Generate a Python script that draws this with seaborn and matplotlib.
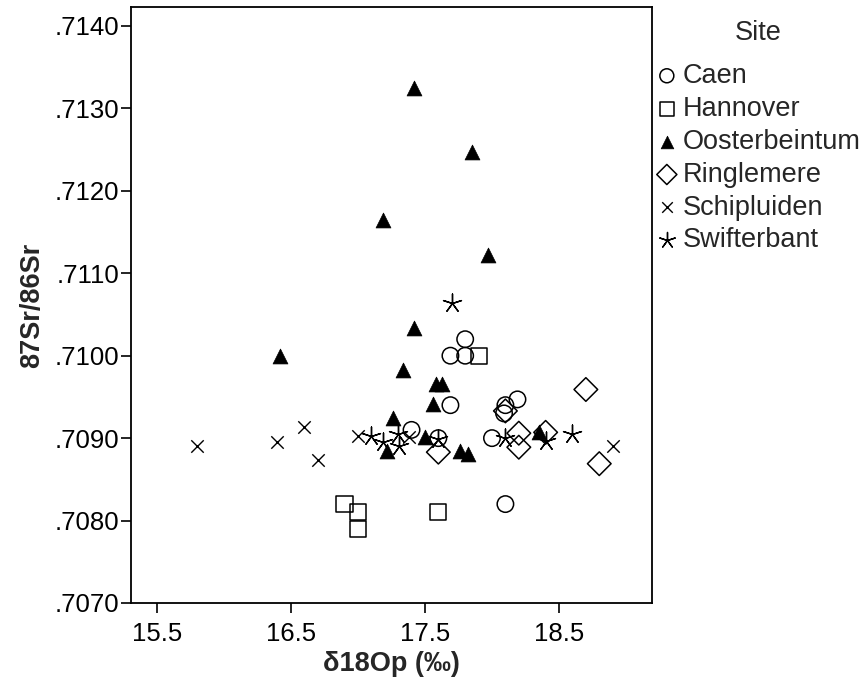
import matplotlib
matplotlib.use("Agg")
import matplotlib.pyplot as plt
import seaborn as sns
import pandas as pd

# ---- data ----
sites = ["Caen", "Hannover", "Oosterbeintum", "Ringlemere", "Schipluiden", "Swifterbant"]

caen_x = [17.80, 17.69, 17.80, 17.69, 17.40, 17.60, 18.00, 18.10, 18.09, 18.19, 18.10]
caen_y = [.7102, .7100, .7100, .7094, .7091, .7090, .7090, .7094, .7093, .70947, .7082]

hannover_x = [16.90, 17.00, 17.00, 17.60, 17.90]
hannover_y = [.7082, .7081, .7079, .7081, .7100]

oost_x = [16.42, 17.42, 17.85, 17.19, 17.97, 17.42, 17.34, 17.58, 17.63, 17.56,
          17.26, 17.50, 17.22, 17.76, 17.82, 18.35]
oost_y = [.7100, .71325, .71247, .71165, .71122, .71034, .70983, .70966, .70966, .70941,
          .70924, .70901, .70884, .70884, .70881, .70907]

ring_x = [17.60, 18.10, 18.20, 18.20, 18.40, 18.70, 18.80]
ring_y = [.70883, .70933, .70906, .70889, .70907, .70959, .70869]

schip_x = [15.80, 16.40, 16.60, 16.70, 17.00, 17.38, 18.90]
schip_y = [.70891, .70895, .70913, .70874, .70903, .70901, .70891]

swift_x = [17.70, 17.10, 17.19, 17.30, 17.31, 17.60, 18.10, 18.40, 18.60]
swift_y = [.71064, .70903, .70895, .70905, .70891, .70899, .70900, .70897, .70905]

xticks = [15.5, 16.5, 17.5, 18.5]
xtick_labels = ["15.5", "16.5", "17.5", "18.5"]
yticks = [.7070, .7080, .7090, .7100, .7110, .7120, .7130, .7140]
ytick_labels = [".7070", ".7080", ".7090", ".7100", ".7110", ".7120", ".7130", ".7140"]

xs = [caen_x, hannover_x, oost_x, ring_x, schip_x, swift_x]
ys = [caen_y, hannover_y, oost_y, ring_y, schip_y, swift_y]
df = pd.concat([pd.DataFrame({"d18O": x, "Sr": y, "Site": s}) for s, x, y in zip(sites, xs, ys)],
               ignore_index=True)

# ---- style ----
sns.set_style("ticks")
plt.rcParams["font.family"] = ["Liberation Sans", "DejaVu Sans"]

fig = plt.figure(figsize=(8.64, 6.97), dpi=100)
ax = fig.add_axes([131 / 864, 1 - 603 / 697, (651.7 - 131) / 864, (603 - 7) / 697])

styles = {
    "Caen": dict(marker="o", s=140, facecolors="none", edgecolors="black", linewidths=1.1),
    "Hannover": dict(marker="s", s=135, facecolors="none", edgecolors="black", linewidths=1.1),
    "Oosterbeintum": dict(marker="^", s=115, facecolors="black", edgecolors="black", linewidths=0.5),
    "Ringlemere": dict(marker="D", s=145, facecolors="none", edgecolors="black", linewidths=1.1),
    "Schipluiden": dict(marker="x", s=80, linewidths=1.0),
    "Swifterbant": dict(marker=(5, 2, 0), s=185, linewidths=1.0),
}

for site in sites:
    sub = df[df["Site"] == site]
    sns.scatterplot(data=sub, x="d18O", y="Sr", ax=ax, color="black", label=site,
                    legend=False, **styles[site])

ax.set_xlim(15.308, 19.191)
ax.set_ylim(.7070, .71423)
ax.set_xticks(xticks)
ax.set_xticklabels(xtick_labels)
ax.set_yticks(yticks)
ax.set_yticklabels(ytick_labels)
ax.tick_params(axis="both", direction="out", length=7, width=1.2, labelsize=18.5,
               colors="black")
ax.tick_params(axis="x", pad=6.5)
ax.tick_params(axis="y", pad=1.5)
for sp in ax.spines.values():
    sp.set_visible(True)
    sp.set_linewidth(1.3)
    sp.set_color("black")

ax.set_xlabel("δ18Op (‰)", fontsize=19.5, fontweight="bold", labelpad=4)
ax.set_ylabel("87Sr/86Sr", fontsize=19.5, fontweight="bold", labelpad=7)

handles, labels = ax.get_legend_handles_labels()
leg = ax.legend(handles, labels, title="Site", loc="upper left",
                bbox_to_anchor=(656 / 864, 1 - 20.5 / 697), bbox_transform=fig.transFigure,
                frameon=False, fontsize=19.5, title_fontsize=19.5, markerscale=0.85,
                handlelength=0.8, handletextpad=0.2, labelspacing=0.255,
                borderpad=0, borderaxespad=0)
leg._legend_box.sep = 11.8

fig.savefig("out.png", dpi=100)
